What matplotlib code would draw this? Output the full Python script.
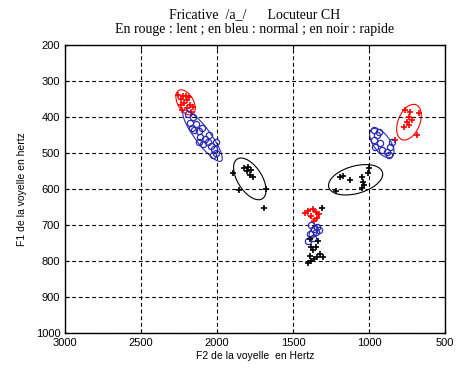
import matplotlib
matplotlib.use('Agg')
import numpy as np
import matplotlib.pyplot as plt
from matplotlib.patches import Ellipse

# Formant measurements (F2, F1) in Hz, one list per speaking rate and region
red_f2_a = [2255, 2240, 2225, 2215, 2200, 2195, 2180, 2170, 2160, 2235, 2205, 2230, 2185]
red_f1_a = [338, 350, 342, 360, 352, 375, 365, 385, 372, 365, 340, 380, 345]
red_f2_b = [762, 728, 735, 748, 715, 768, 735, 669, 682, 828]
red_f1_b = [380, 386, 400, 414, 408, 428, 422, 389, 450, 464]
red_f2_c = [1400, 1370, 1350, 1380, 1340, 1360, 1330, 1424]
red_f1_c = [660, 655, 665, 675, 680, 690, 670, 667]

blue_f2_a = [2190, 2160, 2175, 2140, 2150, 2120, 2100, 2110, 2080, 2060,
             2090, 2040, 2020, 2005, 2030, 2010, 2120, 2165, 2050]
blue_f1_a = [392, 400, 415, 418, 435, 440, 430, 455, 460, 470,
             475, 480, 488, 500, 505, 470, 470, 430, 450]
blue_f2_b = [967, 947, 967, 927, 960, 914, 881, 861, 867, 848, 934]
blue_f1_b = [436, 450, 464, 472, 483, 492, 497, 483, 506, 469, 442]
blue_f2_c = [1380, 1360, 1340, 1390, 1370, 1400, 1350, 1330]
blue_f1_c = [700, 710, 705, 725, 735, 745, 720, 715]

black_f2_a = [1894, 1821, 1795, 1775, 1762, 1854, 1675, 1689, 1800, 1780]
black_f1_a = [556, 542, 539, 547, 567, 603, 600, 653, 550, 560]
black_f2_b = [1192, 1126, 1046, 1033, 1046, 1000, 1040, 1170, 1220, 1010]
black_f1_b = [567, 575, 567, 589, 597, 542, 580, 565, 605, 555]
black_f2_c = [1390, 1380, 1370, 1390, 1380, 1360, 1340, 1320, 1300, 1350, 1335, 1400]
black_f1_c = [740, 760, 770, 785, 800, 795, 790, 780, 790, 760, 745, 805]
# isolated fast-rate token near the slow cluster
black_f2_x = [1311]
black_f1_x = [653]

xticks = [3000, 2500, 2000, 1500, 1000, 500]
yticks = [200, 300, 400, 500, 600, 700, 800, 900, 1000]


def draw_group(ax, f2, f1, color, marker, n_std=1.8):
    x = np.array(f2, dtype=float)
    y = np.array(f1, dtype=float)
    if marker == 'o':
        ax.plot(x, y, 'o', mfc='none', mec=color, ms=4.5, mew=0.9)
    else:
        ax.plot(x, y, '+', color=color, ms=5, mew=1.2)
    if n_std is None:
        return
    # dispersion ellipse from the covariance of the points
    cov = np.cov(x, y)
    vals, vecs = np.linalg.eigh(cov)
    order = vals.argsort()[::-1]
    vals, vecs = vals[order], vecs[:, order]
    angle = np.degrees(np.arctan2(vecs[1, 0], vecs[0, 0]))
    w, h = 2 * n_std * np.sqrt(vals)
    ax.add_patch(Ellipse((x.mean(), y.mean()), w, h, angle=angle,
                         fill=False, edgecolor=color, lw=0.8))


fig = plt.figure(figsize=(4.65, 3.7), dpi=100)
ax = fig.add_axes([0.14, 0.10, 0.817, 0.778])

blue = '#2b2bb0'
draw_group(ax, red_f2_a, red_f1_a, 'red', '+', n_std=2.2)
draw_group(ax, red_f2_b, red_f1_b, 'red', '+')
draw_group(ax, red_f2_c, red_f1_c, 'red', '+', n_std=1.2)
draw_group(ax, blue_f2_a, blue_f1_a, blue, 'o', n_std=2.2)
draw_group(ax, blue_f2_b, blue_f1_b, blue, 'o')
draw_group(ax, blue_f2_c, blue_f1_c, blue, 'o', n_std=1.2)
draw_group(ax, black_f2_a, black_f1_a, 'black', '+', n_std=1.6)
draw_group(ax, black_f2_b, black_f1_b, 'black', '+', n_std=2.2)
draw_group(ax, black_f2_c, black_f1_c, 'black', '+', n_std=None)
draw_group(ax, black_f2_x, black_f1_x, 'black', '+', n_std=None)

ax.set_xlim(3000, 500)
ax.set_ylim(1000, 200)
ax.set_xticks(xticks)
ax.set_yticks(yticks)
ax.grid(True, color='black', linestyle=(0, (3.5, 2.5)), linewidth=0.8)
ax.tick_params(direction='in', top=True, right=True, labelsize=8, length=3)
for lbl in ax.get_xticklabels() + ax.get_yticklabels():
    lbl.set_family('Liberation Sans')
for s in ax.spines.values():
    s.set_linewidth(1.0)

ax.set_xlabel('F2 de la voyelle  en Hertz', fontsize=7.5, family='Liberation Sans', labelpad=2)
ax.set_ylabel('F1 de la voyelle en hertz', fontsize=7.5, family='Liberation Sans', labelpad=6)
ax.set_title('Fricative  /a_/      Locuteur CH\nEn rouge : lent ; en bleu : normal ; en noir : rapide',
             fontsize=10, family='Liberation Serif', linespacing=1.15, pad=9)

fig.savefig('out.png', dpi=100)
